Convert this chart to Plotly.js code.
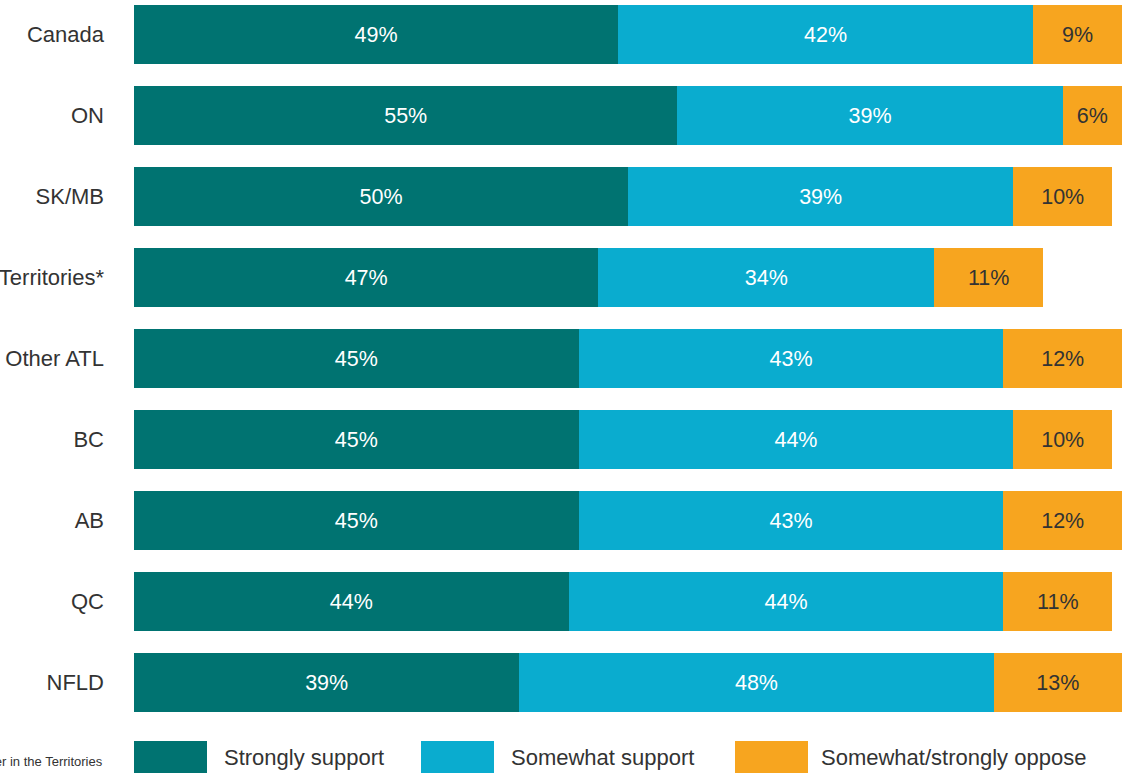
<!DOCTYPE html>
<html>
<head>
<meta charset="utf-8">
<script src="https://cdn.plot.ly/plotly-3.0.1.min.js"></script>
<style>
html,body{margin:0;padding:0;background:#fff;}
#chart{width:1123px;height:773px;}
</style>
</head>
<body>
<div id="chart"></div>
<script>
const categories = ["Canada", "ON", "SK/MB", "Territories*", "Other ATL", "BC", "AB", "QC", "NFLD"];
const stronglySupport = [49, 55, 50, 47, 45, 45, 45, 44, 39];
const somewhatSupport = [42, 39, 39, 34, 43, 44, 43, 44, 48];
const oppose = [9, 6, 10, 11, 12, 10, 12, 11, 13];
const seriesNames = ["Strongly support", "Somewhat support", "Somewhat/strongly oppose"];
const footnote = "*Sample size is smaller in the Territories";

const colors = ["#007371", "#0AACCF", "#F7A51F"];
const textColors = ["#ffffff", "#ffffff", "#333333"];
const FONT = "Liberation Sans, Arial, Helvetica, sans-serif";

const W = 1123, H = 773;
const mL = 134, mR = 1, mT = 0, mB = 50;
const plotW = W - mL - mR, plotH = H - mT - mB;

const allSeries = [stronglySupport, somewhatSupport, oppose];
const traces = allSeries.map((vals, i) => ({
  type: "bar",
  orientation: "h",
  name: seriesNames[i],
  y: categories,
  x: vals,
  marker: {color: colors[i], line: {width: 0}},
  text: vals.map(v => v + "%"),
  texttemplate: "%{text}",
  textposition: "inside",
  insidetextanchor: "middle",
  textangle: 0,
  constraintext: "none",
  textfont: {family: FONT, size: 21.5, color: textColors[i]},
  hoverinfo: "skip",
  showlegend: false
}));

// legend drawn as shapes + annotations (pixel layout converted to paper coords)
const px2x = p => (p - mL) / plotW;
const px2y = p => (H - mB - p) / plotH;
const legendBoxes = [[134, 207], [421, 494], [735, 808]];
const legendTextX = [222, 509, 819];
const shapes = legendBoxes.map((b, i) => ({
  type: "rect", xref: "paper", yref: "paper",
  x0: px2x(b[0]), x1: px2x(b[1]), y0: px2y(741), y1: px2y(775),
  fillcolor: colors[i], line: {width: 0}
}));
const annotations = seriesNames.map((n, i) => ({
  xref: "paper", yref: "paper", x: px2x(legendTextX[i]), y: px2y(757),
  xanchor: "left", yanchor: "middle", showarrow: false,
  text: n, font: {family: FONT, size: 22, color: "#333333"}
}));
annotations.push({
  xref: "paper", yref: "paper", x: px2x(105), y: px2y(761),
  xanchor: "right", yanchor: "middle", showarrow: false,
  text: footnote, font: {family: FONT, size: 13, color: "#333333"}
});

const layout = {
  width: W, height: H,
  margin: {l: mL, r: mR, t: mT, b: mB, pad: 0},
  paper_bgcolor: "#ffffff", plot_bgcolor: "#ffffff",
  barmode: "stack",
  bargap: 22 / 81,
  showlegend: false,
  hovermode: false,
  xaxis: {range: [0, 100], visible: false, fixedrange: true},
  yaxis: {
    type: "category",
    range: [8.5, -34.5 / 81],
    showgrid: false, zeroline: false, showline: false,
    ticks: "", ticklabelstandoff: 29,
    tickfont: {family: FONT, size: 22, color: "#333333"},
    fixedrange: true
  },
  shapes: shapes,
  annotations: annotations
};

Plotly.newPlot("chart", traces, layout, {displayModeBar: false, staticPlot: true});
</script>
</body>
</html>
